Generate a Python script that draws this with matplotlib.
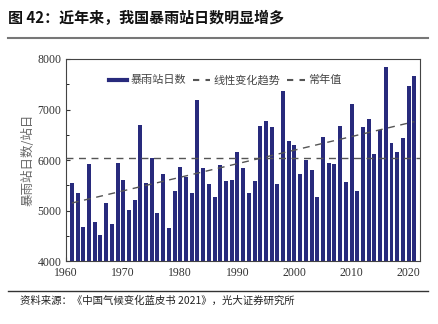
import numpy as np
import matplotlib.pyplot as plt
from matplotlib.lines import Line2D
from matplotlib.ticker import FixedFormatter

plt.rcParams['font.family'] = ['Noto Sans CJK SC', 'DejaVu Sans']
plt.rcParams['font.serif'] = ['Liberation Serif', 'DejaVu Serif']

years = np.arange(1961, 2022)
days = [5540, 5340, 4670, 5915, 4780, 4515, 5155, 4740, 5950, 5600,
        5010, 5210, 6690, 5550, 6035, 4960, 5720, 4650, 5390, 5855,
        5660, 5350, 7190, 5835, 5525, 5275, 5900, 5590, 5615, 6165,
        5835, 5355, 5590, 6675, 6780, 6660, 5520, 7375, 6375, 6300,
        5725, 6000, 5800, 5275, 6460, 5945, 5920, 6675, 5570, 7110,
        5390, 6660, 6805, 6115, 6595, 7835, 6330, 6150, 6440, 7465,
        7665]
trend_ends = [5150, 6760]   # linear trend at 1961 and 2021
normal = 6040
xticks = np.arange(1960, 2021, 10)
yticks = np.arange(4000, 8001, 1000)

bar_color = '#282a7c'
line_color = '#555555'

fig = plt.figure(figsize=(4.38, 3.24), dpi=100)
ax = fig.add_axes([0.151, 0.194, 0.808, 0.624])

ax.bar(years, days, width=0.7, color=bar_color, zorder=2)
ax.plot([years[0], years[-1]], trend_ends, '--', color=line_color,
        linewidth=1.0, dashes=(5, 4), zorder=3)
ax.axhline(normal, color=line_color, linestyle='--', linewidth=1.0,
           dashes=(5, 4), zorder=3)

ax.set_xlim(1960, 2022)
ax.set_ylim(4000, 8000)
ax.set_xticks(xticks)
ax.set_xticklabels([str(v) for v in xticks], family='serif')
ax.set_yticks(yticks)
ax.set_yticklabels([str(v) for v in yticks], family='serif')
ax.set_yticks(np.arange(4500, 8000, 1000), minor=True)
ax.tick_params(direction='in', length=3, width=0.8, colors='#333333',
               labelsize=8.5)
ax.tick_params(axis='x', pad=4)
ax.tick_params(which='minor', direction='in', length=2, width=0.6)
for sp in ax.spines.values():
    sp.set_color('#444444')
    sp.set_linewidth(0.8)

ax.set_ylabel('暴雨站日数/站日', fontsize=9, color='#666666', labelpad=2)

handles = [Line2D([], [], color=bar_color, linewidth=3),
           Line2D([], [], color=line_color, linestyle='--', dashes=(3, 3)),
           Line2D([], [], color=line_color, linestyle='--', dashes=(3, 3))]
labels = ['暴雨站日数', '线性变化趋势', '常年值']
leg = ax.legend(handles, labels, ncol=3, frameon=False, fontsize=8,
                loc='center', bbox_to_anchor=(0.45, 0.895),
                handlelength=1.6, handletextpad=0.3, columnspacing=0.6)
for t in leg.get_texts():
    t.set_color('#444444')

fig.text(0.018, 0.945, '图 42：近年来，我国暴雨站日数明显增多', fontsize=10.8,
         fontweight='bold', color='#111111', va='center')
fig.add_artist(Line2D([0.018, 0.977], [0.883, 0.883], color='#777777',
                      linewidth=1.5))
fig.add_artist(Line2D([0.018, 0.977], [0.102, 0.102], color='#333333',
                      linewidth=1.0))
fig.text(0.045, 0.072, '资料来源：《中国气候变化蓝皮书 2021》，光大证券研究所',
         fontsize=7.5, color='#222222', va='center')

fig.savefig('out.png', dpi=100)
